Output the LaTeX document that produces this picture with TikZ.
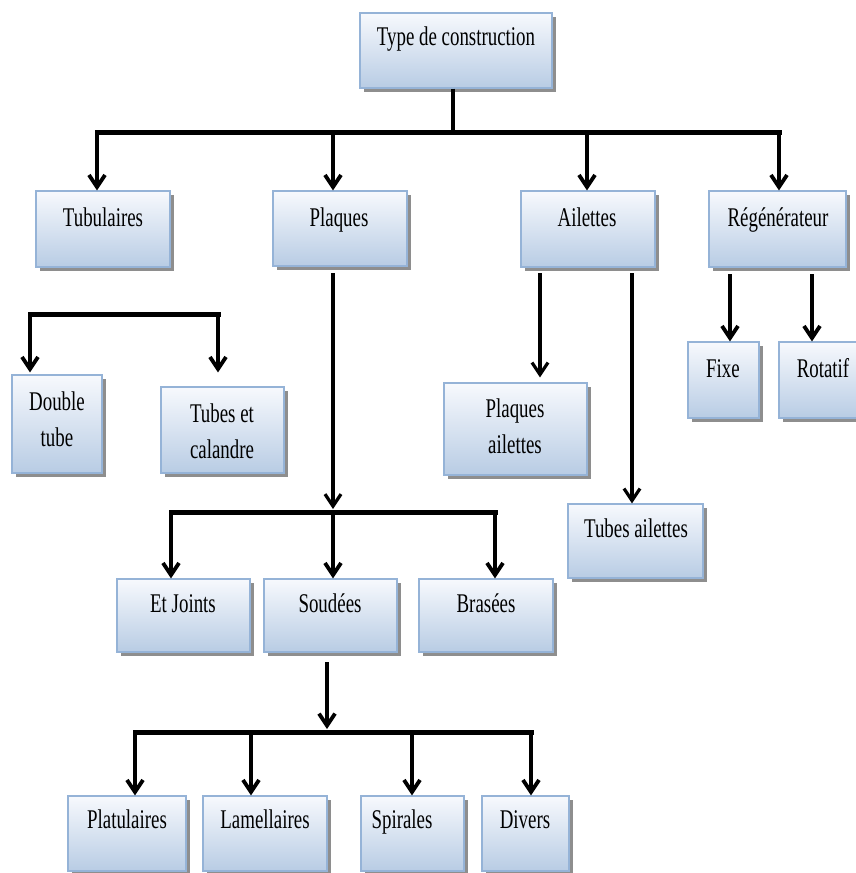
\documentclass[tikz,border=0pt]{standalone}
\usepackage{fontspec}
\setmainfont{Liberation Serif}[FakeStretch=0.70]
\usetikzlibrary{arrows.meta,shadows,fit}
\definecolor{celltop}{HTML}{F7F9FD}
\definecolor{cellbot}{HTML}{B8CCE4}
\definecolor{cellline}{HTML}{95B3D7}
\definecolor{cellshade}{HTML}{8E8E8E}

% a box given by its two corners
\newcommand\cellbox[5]{\node[cell, fit={(#2,#3) (#4,#5)}] (#1) {};}

\begin{document}
\begin{tikzpicture}[x=1pt,y=-1pt,
  cell/.style={draw=cellline, line width=1.2pt, top color=celltop, bottom color=cellbot,
    inner sep=0pt, drop shadow={shadow xshift=3.5pt, shadow yshift=-3.5pt, fill=cellshade, opacity=1}},
  lbl/.style={font=\fontsize{27}{36}\selectfont, inner sep=0pt, anchor=base},
  lbltwo/.style={font=\fontsize{27}{36}\selectfont, inner sep=0pt, anchor=north, align=center},
  bus/.style={line width=5pt, line cap=rect},
  tip/.style={-{Straight Barb[length=12pt,width=16pt]}},
  stem/.style={tip, line width=3.8pt},
  longstem/.style={tip, line width=3.2pt}]
\useasboundingbox (0,0) rectangle (856,873);

% boxes
\cellbox{top}{360}{13}{552}{88}
\cellbox{tub}{36}{191}{170}{267}
\cellbox{plq}{273}{191}{407}{266}
\cellbox{ail}{521}{191}{655}{267}
\cellbox{reg}{709}{191}{846}{267}
\cellbox{dbl}{12}{375}{102}{473}
\cellbox{tec}{161}{387}{284}{473}
\cellbox{pla}{444}{383}{587}{475}
\cellbox{tua}{568}{504}{703}{578}
\cellbox{fix}{688}{342}{759}{418}
\cellbox{rot}{779}{342}{870}{418}
\cellbox{etj}{117}{579}{250}{652}
\cellbox{sou}{264}{579}{397}{652}
\cellbox{bra}{419}{579}{553}{652}
\cellbox{plt}{68}{796}{186}{871}
\cellbox{lam}{203}{796}{327}{871}
\cellbox{spi}{361}{796}{464}{871}
\cellbox{div}{482}{796}{569}{871}

% labels
\node[lbl] (top-t) at (456,45) {Type de construction};
\node[lbl] (tub-t) at (103,226) {Tubulaires};
\node[lbl] (plq-t) at (339,226) {Plaques};
\node[lbl] (ail-t) at (587,226) {Ailettes};
\node[lbl] (reg-t) at (778,226) {Régénérateur};
\node[lbl] (fix-t) at (723,377) {Fixe};
\node[lbl] (rot-t) at (823,377) {Rotatif};
\node[lbltwo] (dbl-t) at (57,391.6) {Double\\tube};
\node[lbltwo] (tec-t) at (222,403.6) {Tubes et\\calandre};
\node[lbltwo] (pla-t) at (515,398.6) {Plaques\\ailettes};
\node[lbl] (tua-t) at (636,537) {Tubes ailettes};
\node[lbl] (etj-t) at (183,612) {Et Joints};
\node[lbl] (sou-t) at (330,612) {Soudées};
\node[lbl] (bra-t) at (486,612) {Brasées};
\node[lbl] (plt-t) at (127,828) {Platulaires};
\node[lbl] (lam-t) at (265,828) {Lamellaires};
\node[lbl] (spi-t) at (402,828) {Spirales};
\node[lbl] (div-t) at (525,828) {Divers};

% junction points
\coordinate (j0) at (453,132);
\coordinate (c1) at (97,132);
\coordinate (c2) at (333,132);
\coordinate (c3) at (587,132);
\coordinate (c4) at (779,132);
\coordinate (l1) at (30,314);
\coordinate (l2) at (218,314);
\coordinate (r1) at (730,274);
\coordinate (r2) at (812,274);
\coordinate (a1) at (540,273);
\coordinate (a2) at (632,273);
\coordinate (p0) at (333,273);
\coordinate (p1) at (333,509);
\coordinate (m1) at (171,512);
\coordinate (m2) at (333,512);
\coordinate (m3) at (495,512);
\coordinate (s0) at (327,662);
\coordinate (s1) at (327,729);
\coordinate (n1) at (135,732);
\coordinate (n2) at (251,732);
\coordinate (n3) at (412,732);
\coordinate (n4) at (531,732);

% first level
\draw[line width=4pt] (j0 |- top.south) -- (j0);
\draw[bus] (c1) -- (c4);
\draw[stem] (c1) -- (c1 |- tub.north);
\draw[stem] (c2) -- (c2 |- plq.north);
\draw[stem] (c3) -- (c3 |- ail.north);
\draw[stem] (c4) -- (c4 |- reg.north);

% tubular types
\draw[bus] (l1) -- (l2);
\draw[stem] (l1) -- ([yshift=2pt]l1 |- dbl.north);
\draw[stem] (l2) -- ([yshift=2pt]l2 |- dbl.north);

% regenerators
\draw[stem] (r1) -- (r1 |- fix.north);
\draw[stem] (r2) -- (r2 |- rot.north);

% finned types
\draw[longstem] (a1) -- ([yshift=5pt]a1 |- pla.north);
\draw[longstem] (a2) -- (a2 |- tua.north);

% plate types
\draw[longstem] (p0) -- (p1);
\draw[bus] (m1) -- (m3);
\draw[stem] (m1) -- (m1 |- etj.north);
\draw[stem] (m2) -- (m2 |- sou.north);
\draw[stem] (m3) -- (m3 |- bra.north);

% welded plate types
\draw[stem] (s0) -- (s1);
\draw[bus] (n1) -- (n4);
\draw[stem] (n1) -- (n1 |- plt.north);
\draw[stem] (n2) -- (n2 |- lam.north);
\draw[stem] (n3) -- (n3 |- spi.north);
\draw[stem] (n4) -- (n4 |- div.north);
\end{tikzpicture}
\end{document}
